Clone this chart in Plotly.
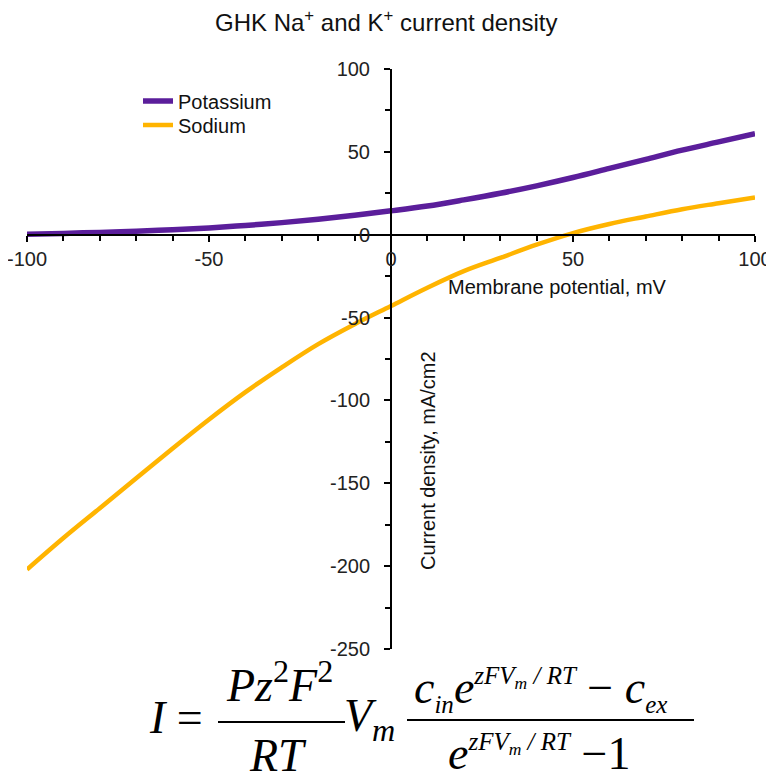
import plotly.graph_objects as go

# Data
voltage_mV = [-100, -90, -80, -70, -60, -50, -40, -30, -20, -10, 0,
              10, 20, 30, 40, 50, 60, 70, 80, 90, 100]
potassium = [0.3, 0.8, 1.4, 2.1, 3.0, 4.1, 5.6, 7.3, 9.4, 11.8, 14.4,
             17.3, 21.0, 25.0, 29.5, 34.5, 40.0, 45.5, 51.0, 56.0, 61.0]
sodium = [-202, -183, -165, -147, -129, -111.5, -95, -80, -66, -54, -43,
          -32, -22, -14, -6, 1, 6.5, 11, 15.4, 19, 22.5]

x_range = [-100, 100]
y_range = [-250, 100]
x_ticks = [-100, -50, 0, 50, 100]
x_ticktext = ["-100", "-50", "0", "50", "100"]
y_ticks = [-250, -200, -150, -100, -50, 0, 50, 100]
y_ticktext = ["-250", "-200", "-150", "-100", "-50", "0", "50", "100"]

# The page body adds an 8px offset, so the figure is 8px smaller than the window
OFF = 8
W, H = 774 - OFF, 773 - OFF
# target plot area in window pixels: x 27..755, y 69..649
PL, PR, PT, PB = 27, 755, 69, 649
ML, MT = PL - OFF, PT - OFF
MR = W - (PR - OFF)
MB = H - (PB - OFF)
PW, PH = PR - PL, PB - PT


def px(xp):
    return (xp - PL) / PW


def py(yp):
    return (PB - yp) / PH


fig = go.Figure()
fig.add_trace(go.Scatter(x=voltage_mV, y=potassium, mode="lines", name="Potassium",
                         legend="legend",
                         line=dict(color="#5B1E9B", width=5.5, shape="spline")))
fig.add_trace(go.Scatter(x=voltage_mV, y=sodium, mode="lines", name="Sodium",
                         legend="legend2",
                         line=dict(color="#FFB400", width=4.5, shape="spline")))

font_sans = "Liberation Sans, Arial, sans-serif"
font_serif = "Liberation Serif, Times New Roman, serif"

y0_frac = (0 - y_range[0]) / (y_range[1] - y_range[0])
x0_frac = (0 - x_range[0]) / (x_range[1] - x_range[0])

leg_common = dict(xanchor="left", yanchor="middle", bgcolor="rgba(0,0,0,0)",
                  font=dict(family=font_sans, size=20, color="#111"),
                  itemwidth=30)

fig.update_layout(
    width=W, height=H,
    margin=dict(l=ML, r=MR, t=MT, b=MB, autoexpand=False),
    paper_bgcolor="white", plot_bgcolor="white",
    showlegend=True,
    legend=dict(x=px(138), y=py(101), **leg_common),
    legend2=dict(x=px(138), y=py(125), **leg_common),
    xaxis=dict(range=x_range, anchor="free", position=y0_frac, automargin=False,
               showline=True, linecolor="black", linewidth=2,
               showgrid=False, zeroline=False, ticklabeloverflow="allow",
               tickmode="array", tickvals=x_ticks, ticktext=x_ticktext,
               ticks="outside", ticklen=6, tickwidth=2, tickcolor="black",
               minor=dict(dtick=10, ticks="outside", ticklen=5, tickwidth=2, tickcolor="black"),
               tickfont=dict(family=font_sans, size=20, color="#222")),
    yaxis=dict(range=y_range, anchor="free", position=x0_frac, automargin=False,
               showline=True, linecolor="black", linewidth=2,
               showgrid=False, zeroline=False, ticklabeloverflow="allow",
               tickmode="array", tickvals=y_ticks, ticktext=y_ticktext,
               ticks="outside", ticklen=6, tickwidth=2, tickcolor="black",
               ticklabelstandoff=10,
               minor=dict(dtick=25, ticks="outside", ticklen=5, tickwidth=2, tickcolor="black"),
               tickfont=dict(family=font_sans, size=20, color="#222")),
)

ann = []
ann.append(dict(text="GHK Na<sup>+</sup> and K<sup>+</sup> current density",
                x=px(386), y=py(21), xref="paper", yref="paper", showarrow=False,
                xanchor="center", yanchor="middle",
                font=dict(family=font_sans, size=24, color="#111")))
# axis titles
ann.append(dict(text="Membrane potential, mV", x=px(557), y=py(287), xref="paper", yref="paper",
                showarrow=False, xanchor="center", yanchor="middle",
                font=dict(family=font_sans, size=20, color="#111")))
ann.append(dict(text="Current density, mA/cm2", x=px(428), y=py(461), xref="paper", yref="paper",
                showarrow=False, textangle=-90, xanchor="center", yanchor="middle",
                font=dict(family=font_sans, size=20, color="#111")))

# formula
FS = 46
SS = '<span style="font-size:25px">'
def eq(text, xp, yp, size=FS, xanchor="center"):
    ann.append(dict(text=text, x=px(xp), y=py(yp), xref="paper", yref="paper",
                    showarrow=False, xanchor=xanchor, yanchor="middle",
                    font=dict(family=font_serif, size=size, color="black")))

eq("<i>I</i> =", 147, 717, xanchor="left")
eq("<i>Pz</i><sup>2</sup><i>F</i><sup>2</sup>", 279, 682)
eq("<i>RT</i>", 278, 755)
eq("<i>V</i><sub><i>m</i></sub>", 369, 719)
eq("<i>c</i><sub>" + SS + "<i>in</i></span></sub><i>e</i><sup>" + SS + "<i>zFV</i><sub><i>m</i></sub><i> / RT</i></span></sup> − <i>c</i><sub>" + SS + "<i>ex</i></span></sub>", 540, 690)
eq("<i>e</i><sup>" + SS + "<i>zFV</i><sub><i>m</i></sub><i> / RT</i></span></sup> −1", 539, 753)

fig.update_layout(annotations=ann)
fig.update_layout(shapes=[
    dict(type="line", xref="paper", yref="paper", x0=px(218), x1=px(345), y0=py(722), y1=py(722),
         line=dict(color="black", width=2)),
    dict(type="line", xref="paper", yref="paper", x0=px(407), x1=px(694), y0=py(720), y1=py(720),
         line=dict(color="black", width=2)),
])

fig.write_html("out.html")
